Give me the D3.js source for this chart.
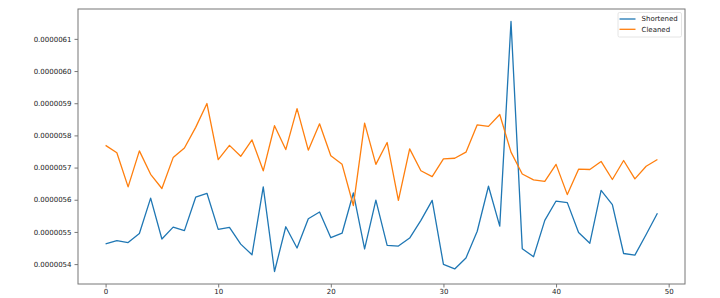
<!DOCTYPE html>
<html>
<head>
<meta charset="utf-8">
<script src="https://cdn.jsdelivr.net/npm/d3@7"></script>
<style>
  body { margin: 0; background: #fff; }
  text { font-family: "DejaVu Sans", sans-serif; fill: #222; }
</style>
</head>
<body>
<div id="chart-area"></div>
<script>

// values in units of 1e-7
var shortened = [54.63, 54.73, 54.67, 54.95, 56.05, 54.78, 55.15, 55.04, 56.08, 56.20,
                 55.08, 55.14, 54.62, 54.29, 56.40, 53.77, 55.16, 54.50, 55.41, 55.62,
                 54.82, 54.96, 56.21, 54.47, 55.99, 54.58, 54.56, 54.81, 55.36, 55.98,
                 53.99, 53.85, 54.19, 55.02, 56.42, 55.18, 61.54, 54.48, 54.23, 55.36,
                 55.96, 55.91, 54.98, 54.65, 56.29, 55.85, 54.33, 54.28, 54.92, 55.58];
var cleaned   = [57.69, 57.46, 56.40, 57.52, 56.79, 56.35, 57.31, 57.61, 58.25, 58.99,
                 57.25, 57.69, 57.35, 57.86, 56.90, 58.30, 57.56, 58.83, 57.54, 58.36,
                 57.37, 57.10, 55.82, 58.38, 57.10, 57.78, 55.98, 57.58, 56.90, 56.72,
                 57.27, 57.29, 57.48, 58.33, 58.28, 58.65, 57.48, 56.80, 56.62, 56.57,
                 57.10, 56.16, 56.95, 56.94, 57.19, 56.63, 57.22, 56.65, 57.04, 57.25];
var seriesNames = ["Shortened", "Cleaned"];
var seriesColors = ["#1f77b4", "#ff7f0e"];
var xTicks = [0, 10, 20, 30, 40, 50];
var yTicks = [54, 55, 56, 57, 58, 59, 60, 61];

var margin = { left: 78, right: 35, top: 9, bottom: 14 };
var width = 720 - margin.left - margin.right,
    height = 298 - margin.top - margin.bottom;

var svg = d3.select("#chart-area")
    .append("svg")
        .attr("width", 720)
        .attr("height", 298);
var g = svg.append("g")
        .attr("transform", "translate(" + margin.left + ", " + margin.top + ")");

var all = shortened.concat(cleaned);
var ymin = d3.min(all), ymax = d3.max(all);
var pad = (ymax - ymin) * 0.05;
var n = shortened.length;

// X Scale
var x = d3.scaleLinear()
    .domain([-(n - 1) * 0.05, (n - 1) * 1.05])
    .range([0, width]);

// Y Scale
var y = d3.scaleLinear()
    .domain([(ymin - pad) * 1e-7, (ymax + pad) * 1e-7])
    .range([height, 0]);

// Axes
var xAxisCall = d3.axisBottom(x).tickValues(xTicks).tickSize(3.5).tickPadding(2);
var xa = g.append("g")
    .attr("class", "x axis")
    .attr("transform", "translate(0," + height + ")")
    .call(xAxisCall);

var yAxisCall = d3.axisLeft(y)
    .tickValues(yTicks.map(function(d){ return d * 1e-7; }))
    .tickFormat(d3.format(".7f"))
    .tickSize(3.5).tickPadding(3);
var ya = g.append("g")
    .attr("class", "y axis")
    .call(yAxisCall);

[xa, ya].forEach(function(a){
    a.select(".domain").remove();
    a.selectAll("line").attr("stroke", "#555").attr("stroke-width", 0.8);
    a.selectAll("text").attr("font-size", "7px").style("fill", "#222");
});

// frame
g.append("rect")
    .attr("width", width).attr("height", height)
    .attr("fill", "none").attr("stroke", "#777").attr("stroke-width", 1);

// Lines
var line = d3.line()
    .x(function(d, i){ return x(i); })
    .y(function(d){ return y(d * 1e-7); });

[shortened, cleaned].forEach(function(s, k){
    g.append("path")
        .datum(s)
        .attr("d", line)
        .attr("fill", "none")
        .attr("stroke", seriesColors[k])
        .attr("stroke-width", 1.3)
        .attr("stroke-linejoin", "round");
});

// Legend
var lg = g.append("g")
    .attr("transform", "translate(" + (width - 67) + ",3.5)");
lg.append("rect")
    .attr("width", 63.5).attr("height", 24.5).attr("rx", 1.5)
    .attr("fill", "#fff").attr("stroke", "#ddd").attr("stroke-width", 0.8);
seriesNames.forEach(function(name, k){
    lg.append("line")
        .attr("x1", 1.5).attr("x2", 17.5)
        .attr("y1", 6.5 + k * 10.3).attr("y2", 6.5 + k * 10.3)
        .attr("stroke", seriesColors[k]).attr("stroke-width", 1.3);
    lg.append("text")
        .attr("x", 23.5).attr("y", 6.5 + k * 10.3)
        .attr("dy", "0.35em")
        .attr("font-size", "7px")
        .text(name);
});

</script>
</body>
</html>
